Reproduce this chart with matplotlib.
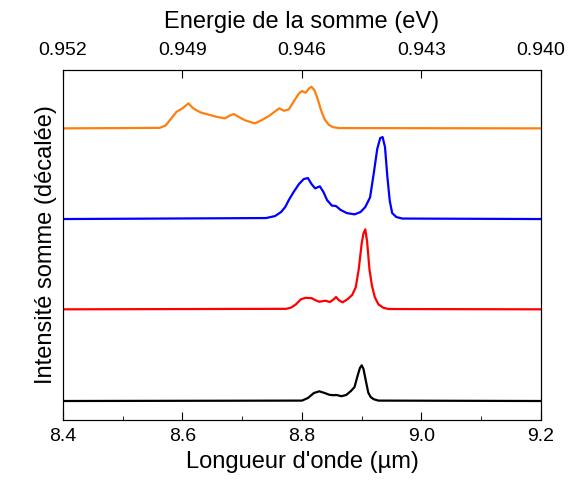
import matplotlib.pyplot as plt

plt.rcParams['font.family'] = ['Liberation Sans', 'DejaVu Sans']

# Longueur d'onde (um) et intensite au-dessus de la ligne de base (u.a.)
x_black = [8.40, 8.800, 8.810, 8.820, 8.829, 8.838, 8.846, 8.852, 8.858, 8.866,
           8.874, 8.882, 8.888, 8.893, 8.897, 8.900, 8.903, 8.907, 8.911, 8.915,
           8.920, 8.928, 9.20]
y_black = [0.0, 0.4, 3.0, 8.0, 9.7, 8.0, 6.2, 5.8, 6.0, 4.8,
           6.0, 10.0, 14.0, 25.0, 33.0, 35.7, 32.0, 20.0, 8.4, 4.0,
           1.8, 0.4, 0.0]

x_red = [8.40, 8.774, 8.782, 8.790, 8.798, 8.806, 8.816, 8.823, 8.829, 8.839,
         8.847, 8.853, 8.857, 8.862, 8.868, 8.876, 8.884, 8.890, 8.895, 8.900,
         8.903, 8.906, 8.909, 8.913, 8.917, 8.922, 8.928, 8.936, 8.945, 9.20]
y_red = [0.0, 0.5, 1.8, 5.0, 10.0, 11.5, 11.2, 9.0, 7.6, 8.6,
         7.3, 10.0, 12.3, 9.0, 7.0, 10.0, 14.3, 22.0, 40.0, 66.0,
         76.0, 80.0, 68.0, 40.0, 24.0, 12.0, 5.0, 1.6, 0.3, 0.0]

x_blue = [8.40, 8.740, 8.755, 8.765, 8.772, 8.778, 8.786, 8.795, 8.803, 8.810,
          8.816, 8.822, 8.830, 8.836, 8.842, 8.850, 8.857, 8.865, 8.875, 8.888,
          8.898, 8.906, 8.914, 8.920, 8.926, 8.931, 8.935, 8.939, 8.943, 8.947,
          8.951, 8.958, 8.968, 9.20]
y_blue = [0.0, 1.0, 3.0, 7.0, 12.0, 19.0, 27.0, 35.0, 40.0, 41.0,
          35.0, 30.7, 32.7, 27.0, 19.0, 13.5, 13.0, 9.0, 6.0, 4.7,
          7.0, 12.0, 21.7, 45.0, 70.0, 81.0, 82.0, 72.0, 42.0, 18.0,
          6.0, 2.0, 0.5, 0.0]

x_orange = [8.40, 8.562, 8.572, 8.580, 8.590, 8.600, 8.610, 8.618, 8.630, 8.645,
            8.657, 8.671, 8.680, 8.686, 8.694, 8.705, 8.721, 8.732, 8.745, 8.755,
            8.762, 8.770, 8.778, 8.786, 8.795, 8.800, 8.806, 8.812, 8.816, 8.821,
            8.826, 8.832, 8.838, 8.845, 8.852, 8.862, 9.20]
y_orange = [0.0, 0.5, 3.0, 9.0, 16.6, 20.0, 25.0, 20.0, 16.0, 13.5,
            11.6, 10.0, 13.0, 14.3, 11.5, 8.0, 5.0, 8.0, 12.5, 17.0,
            20.0, 17.6, 19.0, 26.6, 35.0, 37.3, 35.6, 40.0, 41.6, 38.0,
            30.0, 18.0, 9.0, 3.5, 1.2, 0.3, 0.0]

# decalage vertical de chaque spectre
offsets = [19, 110.7, 201, 291.7]
colors = ['black', 'red', 'blue', '#ff7f0e']

wl_ticks = [8.4, 8.6, 8.8, 9.0, 9.2]
ev_labels = ['0.952', '0.949', '0.946', '0.943', '0.940']

fig = plt.figure(figsize=(5.7, 4.8), dpi=100)
ax = fig.add_axes([0.1105, 0.125, 0.8385, 0.729])

series = [(x_black, y_black), (x_red, y_red), (x_blue, y_blue), (x_orange, y_orange)]
for (xs, ys), off, c in zip(series, offsets, colors):
    ax.plot(xs, [v + off for v in ys], color=c, lw=1.6,
            solid_joinstyle='round', solid_capstyle='round')

ax.set_xlim(8.4, 9.2)
ax.set_ylim(0, 350)
ax.set_xticks(wl_ticks)
ax.set_xticklabels([f'{t:.1f}' for t in wl_ticks])
ax.set_xticks([8.5, 8.7, 8.9, 9.1], minor=True)
ax.set_yticks([])
ax.tick_params(axis='x', which='major', direction='in', length=6, labelsize=14, pad=6)
ax.tick_params(axis='x', which='minor', direction='in', length=3)
ax.set_xlabel("Longueur d'onde (µm)", fontsize=17)
ax.set_ylabel('Intensité somme (décalée)', fontsize=17)

top = ax.twiny()
top.set_xlim(8.4, 9.2)
top.set_xticks(wl_ticks)
top.set_xticklabels(ev_labels)
top.tick_params(axis='x', direction='in', length=6, labelsize=14, pad=8)
top.set_xlabel('Energie de la somme (eV)', fontsize=17, labelpad=10)

fig.savefig('out.png', dpi=100)
